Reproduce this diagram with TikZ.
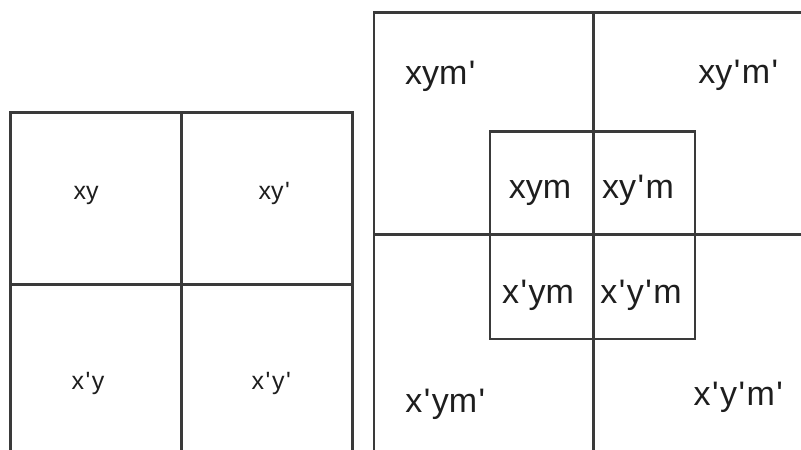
\documentclass[tikz,border=0pt]{standalone}
\usepackage{fontspec}
\setmainfont{Liberation Sans}
\newcommand\pmk{\kern1.5pt\textquotesingle\kern1.5pt}
\definecolor{ln}{HTML}{3A3A3A}
\definecolor{tx}{HTML}{1E1E1E}
\tikzset{
  grid line/.style={draw=ln, line width=2.2pt},
  small lbl/.style={anchor=base, inner sep=0pt, text=tx, font=\fontsize{25}{30}\selectfont},
  big lbl/.style={anchor=base, inner sep=0pt, text=tx, font=\fontsize{34}{40}\selectfont},
}
\begin{document}
\begin{tikzpicture}[x=1pt, y=-1pt]
\useasboundingbox (0,0) rectangle (801,450);
\begin{scope}
\clip (0,0) rectangle (801,450);
% left square
\draw[grid line] (10.5,470) -- (10.5,112.5) -- (352.5,112.5) -- (352.5,470);
\draw[grid line] (181.5,112.5) -- (181.5,470);
\draw[grid line] (10.5,284.5) -- (352.5,284.5);
% right square
\draw[grid line] (374,470) -- (374,12.5) -- (820,12.5);
\draw[grid line] (593.5,12.5) -- (593.5,470);
\draw[grid line] (374,234.5) -- (820,234.5);
\draw[grid line] (490,131.5) rectangle (695,339);
\end{scope}
% left labels
\node[small lbl] (xy)   at (86,199)  {xy};
\node[small lbl] (xyp)  at (275,199) {xy\pmk};
\node[small lbl] (xpy)  at (88,389)  {x\pmk y};
\node[small lbl] (xpyp) at (272,389) {x\pmk y\pmk};
% right labels
\node[big lbl] (xymp)   at (441,84)  {xym\pmk};
\node[big lbl] (xypmp)  at (739,83)  {xy\pmk m\pmk};
\node[big lbl] (xym)    at (540,198) {xym};
\node[big lbl] (xypm)   at (638,198) {xy\pmk m};
\node[big lbl] (xpym)   at (538,303) {x\pmk ym};
\node[big lbl] (xpypm)  at (641,303) {x\pmk y\pmk m};
\node[big lbl] (xpymp)  at (446,412) {x\pmk ym\pmk};
\node[big lbl] (xpypmp) at (739,405) {x\pmk y\pmk m\pmk};
\end{tikzpicture}
\end{document}
